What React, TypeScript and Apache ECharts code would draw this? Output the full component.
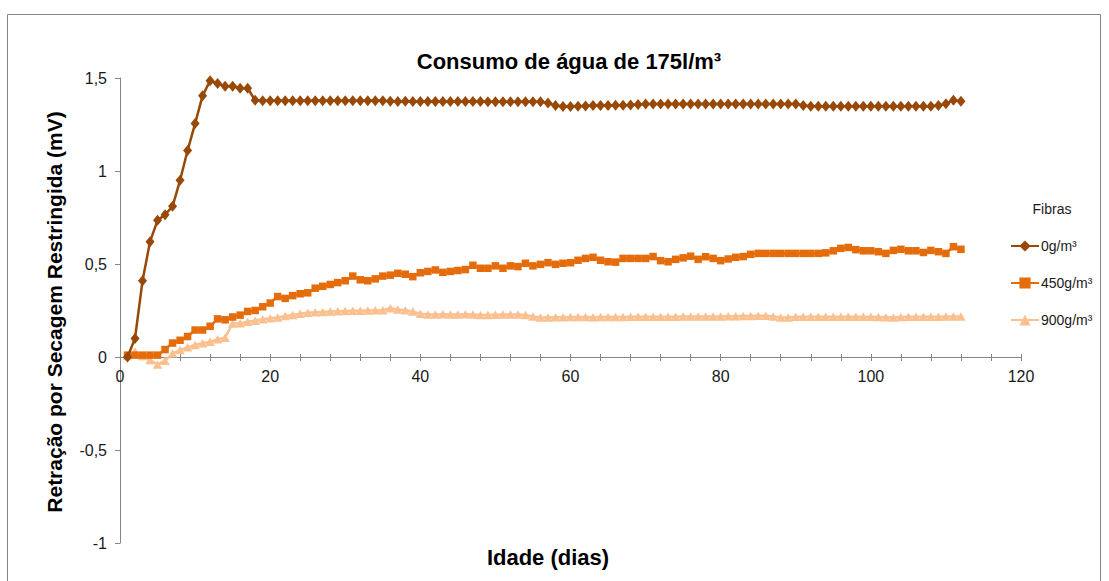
import React, { useEffect, useRef } from "react";
import * as echarts from "echarts";

const FONT = "'Liberation Sans', Arial, Helvetica, sans-serif";

const chartTitle = "Consumo de água de 175l/m³";
const yAxisTitle = "Retração por Secagem Restringida (mV)";
const xAxisTitle = "Idade (dias)";
const legendTitle = "Fibras";
const seriesNames = ["0g/m³", "450g/m³", "900g/m³"];
const seriesColors = ["#984807", "#E46C0A", "#FAC090"];

const yTicks = [-1, -0.5, 0, 0.5, 1, 1.5];
const xTicks = [0, 20, 40, 60, 80, 100, 120];

// Age in days (x values)
const days = [
  1, 2, 3, 4, 5, 6, 7, 8, 9, 10, 11, 12, 13, 14, 15, 16, 17, 18, 19, 20,
  21, 22, 23, 24, 25, 26, 27, 28, 29, 30, 31, 32, 33, 34, 35, 36, 37, 38, 39, 40,
  41, 42, 43, 44, 45, 46, 47, 48, 49, 50, 51, 52, 53, 54, 55, 56, 57, 58, 59, 60,
  61, 62, 63, 64, 65, 66, 67, 68, 69, 70, 71, 72, 73, 74, 75, 76, 77, 78, 79, 80,
  81, 82, 83, 84, 85, 86, 87, 88, 89, 90, 91, 92, 93, 94, 95, 96, 97, 98, 99, 100,
  101, 102, 103, 104, 105, 106, 107, 108, 109, 110, 111, 112,
];

// 0 g/m³
const fib0 = [
  0.0, 0.1, 0.41, 0.62, 0.735, 0.765, 0.81, 0.95, 1.11, 1.255,
  1.405, 1.485, 1.47, 1.455, 1.455, 1.445, 1.445, 1.38, 1.378, 1.378,
  1.378, 1.378, 1.378, 1.378, 1.378, 1.378, 1.378, 1.378, 1.378, 1.378,
  1.378, 1.378, 1.378, 1.378, 1.378, 1.375, 1.374, 1.375, 1.374, 1.374,
  1.374, 1.374, 1.373, 1.373, 1.373, 1.373, 1.373, 1.373, 1.372, 1.372,
  1.372, 1.372, 1.372, 1.372, 1.372, 1.372, 1.365, 1.352, 1.347, 1.347,
  1.348, 1.35, 1.352, 1.352, 1.352, 1.353, 1.354, 1.355, 1.358, 1.36,
  1.36, 1.36, 1.36, 1.36, 1.36, 1.36, 1.36, 1.36, 1.36, 1.36,
  1.36, 1.36, 1.36, 1.36, 1.36, 1.36, 1.36, 1.36, 1.36, 1.36,
  1.352, 1.348, 1.348, 1.348, 1.348, 1.348, 1.348, 1.348, 1.348, 1.348,
  1.348, 1.348, 1.348, 1.348, 1.348, 1.348, 1.348, 1.348, 1.352, 1.362,
  1.38, 1.375,
];

// 450 g/m³
const fib450 = [
  0.01, 0.01, 0.01, 0.01, 0.01, 0.04, 0.075, 0.09, 0.11, 0.145,
  0.145, 0.165, 0.205, 0.2, 0.215, 0.225, 0.245, 0.25, 0.27, 0.29,
  0.325, 0.315, 0.33, 0.34, 0.345, 0.37, 0.38, 0.39, 0.4, 0.41,
  0.435, 0.415, 0.41, 0.42, 0.435, 0.44, 0.45, 0.445, 0.432, 0.453,
  0.46, 0.468, 0.455, 0.46, 0.465, 0.47, 0.493, 0.477, 0.477, 0.49,
  0.477, 0.49, 0.486, 0.504, 0.49, 0.498, 0.507, 0.498, 0.504, 0.507,
  0.52, 0.53, 0.536, 0.52, 0.512, 0.51, 0.53, 0.53, 0.53, 0.53,
  0.54, 0.518, 0.512, 0.525, 0.533, 0.542, 0.525, 0.539, 0.53, 0.518,
  0.527, 0.536, 0.54, 0.552, 0.557, 0.557, 0.557, 0.557, 0.557, 0.557,
  0.557, 0.557, 0.557, 0.56, 0.571, 0.584, 0.589, 0.577, 0.571, 0.571,
  0.566, 0.557, 0.573, 0.579, 0.571, 0.571, 0.562, 0.573, 0.566, 0.557,
  0.593, 0.579,
];

// 900 g/m³
const fib900 = [
  0.005, 0.03, 0.005, -0.016, -0.04, -0.02, 0.02, 0.038, 0.052, 0.065,
  0.074, 0.082, 0.095, 0.104, 0.18, 0.182, 0.19, 0.195, 0.203, 0.208,
  0.213, 0.22, 0.226, 0.232, 0.238, 0.24, 0.242, 0.244, 0.246, 0.247,
  0.248, 0.248, 0.25, 0.252, 0.252, 0.262, 0.255, 0.252, 0.245, 0.232,
  0.228, 0.228, 0.23, 0.228, 0.228, 0.23, 0.228, 0.226, 0.226, 0.227,
  0.228, 0.228, 0.228, 0.226, 0.218, 0.212, 0.213, 0.214, 0.214, 0.215,
  0.215, 0.215, 0.214, 0.215, 0.215, 0.215, 0.215, 0.216, 0.216, 0.216,
  0.217, 0.217, 0.217, 0.217, 0.218, 0.218, 0.218, 0.218, 0.218, 0.218,
  0.219, 0.219, 0.22, 0.221, 0.222, 0.222, 0.218, 0.212, 0.212, 0.216,
  0.217, 0.217, 0.217, 0.217, 0.217, 0.217, 0.217, 0.217, 0.217, 0.216,
  0.215, 0.214, 0.213, 0.215, 0.216, 0.217, 0.217, 0.217, 0.217, 0.218,
  0.218, 0.218,
];

const seriesValues = [fib0, fib450, fib900];
const seriesSymbols = ["diamond", "rect", "triangle"];
const symbolSizes: any[] = [[9, 11], 7.5, [9.5, 8.5]];

const AXIS_COLOR = "#868686";
const Y_MIN = -1;
const Y_MAX = 1.5;
const GRID_TOP = 78;
const GRID_HEIGHT = 465;
// distance of the y = 0 line from the bottom / top of the plot area
const ZERO_FROM_BOTTOM = (GRID_HEIGHT * (0 - Y_MIN)) / (Y_MAX - Y_MIN);
const ZERO_FROM_TOP = GRID_HEIGHT - ZERO_FROM_BOTTOM;

export default function App() {
  const ref = useRef<HTMLDivElement>(null);

  useEffect(() => {
    if (!ref.current) return;
    const chart = echarts.init(ref.current, undefined, { renderer: "svg" });

    const series = seriesNames.map((name, si) => ({
      name,
      type: "line",
      xAxisIndex: 0,
      yAxisIndex: 0,
      data: days.map((d, i) => [d, seriesValues[si][i]]),
      symbol: seriesSymbols[si],
      symbolSize: symbolSizes[si],
      showSymbol: true,
      lineStyle: { color: seriesColors[si], width: 2.5 },
      itemStyle: { color: seriesColors[si], borderWidth: 0 },
      z: 3 - si,
    }));

    const option: any = {
      animation: false,
      backgroundColor: "#ffffff",
      textStyle: { fontFamily: FONT },
      grid: { left: 120, top: GRID_TOP, width: 901, height: GRID_HEIGHT, containLabel: false },
      xAxis: [
        {
          type: "value",
          min: 0,
          max: 120,
          interval: 20,
          position: "bottom",
          offset: -ZERO_FROM_BOTTOM,
          axisLine: { show: true, onZero: false, lineStyle: { color: AXIS_COLOR, width: 1 } },
          axisTick: { show: true, inside: false, length: 4, lineStyle: { color: AXIS_COLOR } },
          minorTick: { show: true, splitNumber: 5, length: 4, lineStyle: { color: AXIS_COLOR } },
          splitLine: { show: false },
          axisLabel: {
            fontSize: 16,
            color: "#1a1a1a",
            margin: 11,
            fontFamily: FONT,
            customValues: xTicks,
          },
        },
        {
          // upper half of the crossing tick marks
          type: "value",
          min: 0,
          max: 120,
          interval: 20,
          position: "top",
          offset: -ZERO_FROM_TOP,
          axisLine: { show: false, onZero: false },
          axisTick: { show: true, inside: false, length: 3, lineStyle: { color: AXIS_COLOR } },
          minorTick: { show: true, splitNumber: 5, length: 3, lineStyle: { color: AXIS_COLOR } },
          splitLine: { show: false },
          axisLabel: { show: false },
        },
      ],
      yAxis: {
        type: "value",
        min: Y_MIN,
        max: Y_MAX,
        interval: 0.5,
        axisLine: { show: true, onZero: false, lineStyle: { color: AXIS_COLOR, width: 1 } },
        axisTick: { show: true, inside: false, length: 5, lineStyle: { color: AXIS_COLOR } },
        splitLine: { show: false },
        axisLabel: {
          fontSize: 16,
          color: "#1a1a1a",
          margin: 13,
          fontFamily: FONT,
          customValues: yTicks,
          formatter: (v: number) => String(v).replace(".", ","),
        },
      },
      legend: {
        orient: "vertical",
        left: 1005,
        top: 234,
        itemWidth: 28,
        itemHeight: 14,
        itemGap: 23,
        data: seriesNames,
        textStyle: { fontSize: 14, color: "#1a1a1a", fontFamily: FONT, padding: [0, 0, 0, -3] },
      },
      graphic: [
        {
          type: "rect",
          silent: true,
          shape: { x: 7.5, y: 14.5, width: 1093, height: 620 },
          style: { fill: "none", stroke: AXIS_COLOR, lineWidth: 1 },
          z: -10,
        },
        {
          type: "text",
          x: 569,
          y: 61,
          style: {
            text: chartTitle,
            font: `bold 22px ${FONT}`,
            fill: "#000",
            textAlign: "center",
            textVerticalAlign: "middle",
          },
        },
        {
          type: "text",
          x: 54,
          y: 312,
          rotation: Math.PI / 2,
          style: {
            text: yAxisTitle,
            font: `bold 21px ${FONT}`,
            fill: "#000",
            textAlign: "center",
            textVerticalAlign: "middle",
          },
        },
        {
          type: "text",
          x: 548,
          y: 557,
          style: {
            text: xAxisTitle,
            font: `bold 22px ${FONT}`,
            fill: "#000",
            textAlign: "center",
            textVerticalAlign: "middle",
          },
        },
        {
          type: "text",
          x: 1052,
          y: 209,
          style: {
            text: legendTitle,
            font: `14px ${FONT}`,
            fill: "#1a1a1a",
            textAlign: "center",
            textVerticalAlign: "middle",
          },
        },
      ],
      series,
    };

    chart.setOption(option);
    return () => chart.dispose();
  }, []);

  return (
    <div
      ref={ref}
      style={{ position: "fixed", left: 0, top: 0, width: 1109, height: 581, background: "#fff" }}
    />
  );
}
